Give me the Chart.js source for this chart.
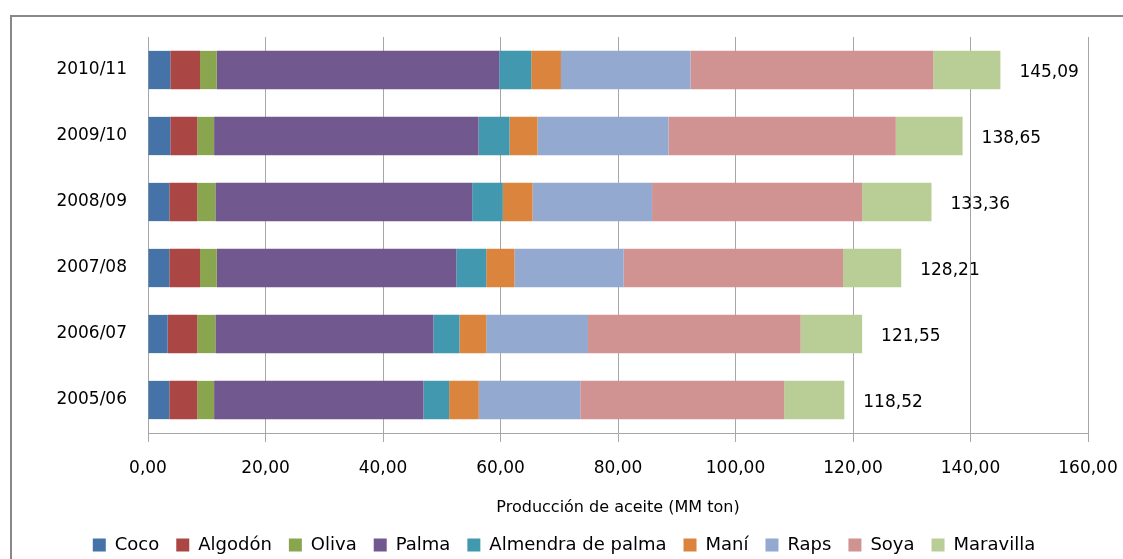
<!DOCTYPE html>
<html>
<head>
<meta charset="utf-8">
<script src="https://cdn.jsdelivr.net/npm/chart.js@4"></script>
<style>
  html, body { margin: 0; padding: 0; background: #fff; }
  #wrap { width: 1123px; height: 559px; }
</style>
</head>
<body>
<div id="wrap"><canvas id="aceiteChart" width="1123" height="559"></canvas></div>
<script>
// Producción mundial de aceites vegetales por temporada (MM ton)
const temporadas = ['2010/11', '2009/10', '2008/09', '2007/08', '2006/07', '2005/06'];
const coco      = [3.80, 3.80, 3.63, 3.63, 3.35, 3.63];
const algodon   = [5.06, 4.60, 4.77, 5.23, 5.05, 4.77];
const oliva     = [2.85, 2.85, 3.07, 2.85, 3.07, 2.85];
const palma     = [48.07, 45.01, 43.71, 40.79, 37.12, 35.63];
const almendra  = [5.46, 5.28, 5.22, 5.07, 4.43, 4.38];
const mani      = [5.05, 4.77, 5.06, 4.82, 4.55, 5.05];
const raps      = [22.05, 22.28, 20.34, 18.58, 17.32, 17.27];
const soya      = [41.31, 38.70, 35.75, 37.33, 36.20, 34.71];
const maravilla = [11.44, 11.36, 11.81, 9.91, 10.46, 10.23];
const totales   = [145.09, 138.65, 133.36, 128.21, 121.55, 118.52];
const ticksX    = [0, 20, 40, 60, 80, 100, 120, 140, 160];

const fmt = v => v.toFixed(2).replace('.', ',');

Chart.defaults.font.family = "'DejaVu Sans', sans-serif";
Chart.defaults.color = '#000';

// marco exterior del gráfico
const marco = {
    id: 'marco',
    beforeDraw(chart) {
        const c = chart.ctx;
        c.save();
        c.fillStyle = '#fff';
        c.fillRect(0, 0, chart.width, chart.height);
        c.strokeStyle = '#888';
        c.lineWidth = 2;
        c.strokeRect(11, 16, 1200, 600);
        c.restore();
    }
};

// alto fijo para la leyenda
const leyendaAlto = {
    id: 'leyendaAlto',
    beforeLayout(chart) {
        const lg = chart.legend;
        if (lg && !lg._altoFijo) {
            const fit = lg.fit;
            lg.fit = function () {
                fit.call(this);
                this.height = 40;
            };
            lg._altoFijo = true;
        }
    }
};

// total al final de cada barra
const totalesPlugin = {
    id: 'totales',
    afterDatasetsDraw(chart) {
        const c = chart.ctx;
        const xs = chart.scales.x;
        const meta = chart.getDatasetMeta(chart.data.datasets.length - 1);
        c.save();
        c.font = "17px 'DejaVu Sans', sans-serif";
        c.fillStyle = '#000';
        c.textBaseline = 'middle';
        totales.forEach((t, i) => {
            c.fillText(fmt(t), xs.getPixelForValue(t) + 19, meta.data[i].y + 3);
        });
        c.restore();
    }
};

const series = [
    ['Coco', coco, '#4572A7'],
    ['Algodón', algodon, '#AA4643'],
    ['Oliva', oliva, '#89A54E'],
    ['Palma', palma, '#71588F'],
    ['Almendra de palma', almendra, '#4198AF'],
    ['Maní', mani, '#DB843D'],
    ['Raps', raps, '#93A9CF'],
    ['Soya', soya, '#D19392'],
    ['Maravilla', maravilla, '#B9CD96']
];

new Chart(document.getElementById('aceiteChart'), {
    type: 'bar',
    data: {
        labels: temporadas,
        datasets: series.map(([label, data, color]) => ({
            label: label,
            data: data,
            backgroundColor: color,
            borderWidth: 0,
            barPercentage: 0.58,
            categoryPercentage: 1
        }))
    },
    options: {
        indexAxis: 'y',
        responsive: false,
        animation: false,
        layout: { padding: { left: 40, top: 37, right: 35, bottom: 0 } },
        scales: {
            x: {
                stacked: true,
                min: 0,
                max: 160,
                afterBuildTicks: s => { s.ticks = ticksX.map(v => ({ value: v })); },
                afterFit: s => { s.height = 86; s.paddingLeft = 0; s.paddingRight = 0; },
                grid: { color: '#a6a6a6', tickLength: 9, drawTicks: true },
                border: { color: '#a6a6a6' },
                ticks: { callback: v => fmt(v), font: { size: 17 }, padding: 16, maxRotation: 0 },
                title: { display: true, text: 'Producción de aceite (MM ton)', font: { size: 16 }, padding: { top: 4, bottom: 2 } }
            },
            y: {
                stacked: true,
                afterFit: s => { s.width = 108; },
                grid: { display: false, drawTicks: false },
                border: { display: true, color: '#a6a6a6' },
                ticks: { font: { size: 17 }, padding: 21 }
            }
        },
        plugins: {
            legend: {
                position: 'bottom',
                labels: { boxWidth: 13, boxHeight: 13, padding: 17, font: { size: 18 } }
            },
            tooltip: { enabled: false }
        }
    },
    plugins: [marco, leyendaAlto, totalesPlugin]
});
</script>
</body>
</html>
